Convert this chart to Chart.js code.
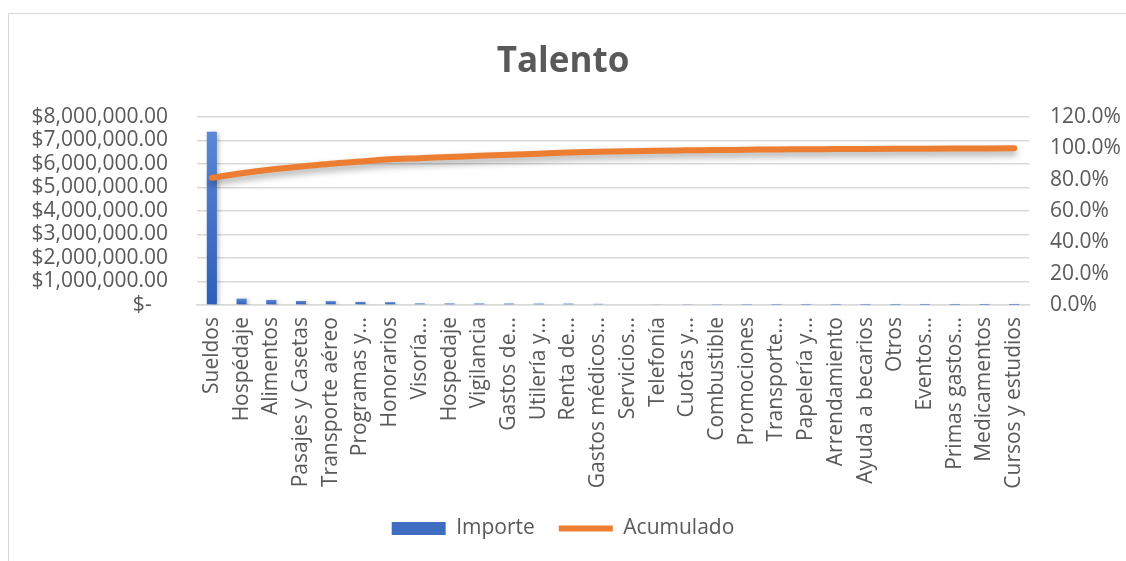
<!DOCTYPE html>
<html>
<head>
<meta charset="utf-8">
<script src="https://cdn.jsdelivr.net/npm/chart.js@4/dist/chart.umd.min.js"></script>
<style>
  html, body { margin: 0; padding: 0; background: #ffffff; }
  #wrap { position: relative; width: 1126px; height: 561px; }
</style>
</head>
<body>
<div id="wrap"><canvas id="c" width="1126" height="561"></canvas></div>
<script>
const chartTitle = 'Talento';
const categories = [
  'Sueldos', 'Hospédaje', 'Alimentos', 'Pasajes y Casetas', 'Transporte aéreo',
  'Programas y...', 'Honorarios', 'Visoría...', 'Hospedaje', 'Vigilancia',
  'Gastos de...', 'Utilería y...', 'Renta de...', 'Gastos médicos...', 'Servicios...',
  'Telefonía', 'Cuotas y...', 'Combustible', 'Promociones', 'Transporte...',
  'Papelería y...', 'Arrendamiento', 'Ayuda a becarios', 'Otros', 'Eventos...',
  'Primas gastos...', 'Medicamentos', 'Cursos y estudios'
];
const importe = [
  7370000, 270000, 215000, 170000, 165000,
  130000, 120000, 70000, 68000, 66000,
  64000, 62000, 60000, 50000, 32000,
  28000, 23000, 20000, 17000, 14000,
  11000, 12000, 10000, 9000, 8000,
  7000, 5000, 4000
];
const acumulado = [
  81.2, 84.1, 86.5, 88.4, 90.2,
  91.6, 93.0, 93.7, 94.5, 95.2,
  95.9, 96.6, 97.3, 97.8, 98.2,
  98.5, 98.7, 98.9, 99.1, 99.3,
  99.4, 99.5, 99.6, 99.7, 99.8,
  99.9, 99.96, 100.0
];
const leftTicks = [0, 1000000, 2000000, 3000000, 4000000, 5000000, 6000000, 7000000, 8000000];
const rightTicks = [0, 20, 40, 60, 80, 100, 120];
const seriesNames = ['Importe', 'Acumulado'];

const FONT = '"Open Sans", "Noto Sans", sans-serif';
const TXT = '#595959';
const GRID = '#d9d9d9';

const frame = {
  id: 'frame',
  beforeDraw(chart) {
    const c = chart.ctx;
    c.save();
    c.fillStyle = '#ffffff';
    c.fillRect(0, 0, chart.width, chart.height);
    c.strokeStyle = GRID;
    c.lineWidth = 1;
    c.beginPath();
    c.moveTo(8.5, chart.height);
    c.lineTo(8.5, 13.5);
    c.lineTo(chart.width, 13.5);
    c.stroke();
    c.restore();
  }
};
const shadow = {
  id: 'shadow',
  beforeDatasetDraw(chart, args) {
    const c = chart.ctx;
    c.save();
    if (args.index === 1) {
      c.shadowColor = 'rgba(0,0,0,0.35)';
      c.shadowBlur = 7;
      c.shadowOffsetY = 4;
    } else {
      c.shadowColor = 'rgba(0,0,0,0.25)';
      c.shadowBlur = 4;
      c.shadowOffsetX = 2;
      c.shadowOffsetY = 1;
    }
  },
  afterDatasetDraw(chart) { chart.ctx.restore(); }
};

function barFill(ctx) {
  const chart = ctx.chart;
  const y = chart.scales && chart.scales.y;
  if (!chart.chartArea || !y || ctx.raw === undefined) return '#4472C4';
  const top = y.getPixelForValue(ctx.raw);
  const bot = y.getPixelForValue(0);
  if (!isFinite(top) || !isFinite(bot) || bot - top < 1) return '#4A78CB';
  const g = chart.ctx.createLinearGradient(0, top, 0, bot);
  g.addColorStop(0, '#5B87D6');
  g.addColorStop(1, '#2E5EB6');
  return g;
}

new Chart(document.getElementById('c'), {
  data: {
    labels: categories,
    datasets: [
      {
        type: 'bar',
        label: seriesNames[0],
        data: importe,
        yAxisID: 'y',
        backgroundColor: barFill,
        borderWidth: 0,
        categoryPercentage: 1,
        barPercentage: 0.34,
        pointStyle: 'rect',
        order: 1
      },
      {
        type: 'line',
        label: seriesNames[1],
        data: acumulado,
        yAxisID: 'y1',
        borderColor: '#ED7D31',
        backgroundColor: '#ED7D31',
        borderWidth: 6,
        borderCapStyle: 'round',
        borderJoinStyle: 'round',
        pointRadius: 0,
        pointHoverRadius: 0,
        pointStyle: 'line',
        tension: 0.4,
        cubicInterpolationMode: 'monotone',
        fill: false,
        order: 0
      }
    ]
  },
  options: {
    responsive: false,
    animation: false,
    devicePixelRatio: 1,
    layout: { padding: { left: 0, right: 0, top: 0, bottom: 12 } },
    plugins: {
      tooltip: { enabled: false },
      title: {
        display: true,
        text: chartTitle,
        color: TXT,
        font: { family: FONT, size: 35, weight: 'bold', lineHeight: 1.2 },
        padding: { top: 41, bottom: 34 }
      },
      legend: {
        position: 'bottom',
        labels: {
          usePointStyle: true,
          pointStyleWidth: 54,
          boxHeight: 13,
          padding: 24,
          color: TXT,
          font: { family: FONT, size: 21 },
          sort: (a, b) => a.datasetIndex - b.datasetIndex,
          generateLabels(chart) {
            const items = Chart.defaults.plugins.legend.labels.generateLabels(chart);
            items.forEach(it => {
              if (it.datasetIndex === 0) {
                it.fillStyle = '#3F6DC2';
                it.strokeStyle = '#3F6DC2';
                it.lineWidth = 0;
              }
            });
            return items;
          }
        }
      }
    },
    scales: {
      x: {
        offset: true,
        grid: { display: false, drawTicks: false },
        border: { display: true, color: GRID, width: 1.5 },
        ticks: {
          autoSkip: false,
          maxRotation: 90,
          minRotation: 90,
          padding: 12,
          color: TXT,
          font: { family: FONT, size: 21 }
        },
        afterFit(s) { s.height = 189; }
      },
      y: {
        position: 'left',
        min: 0,
        max: 8000000,
        afterBuildTicks(s) { s.ticks = leftTicks.map(v => ({ value: v })); },
        grid: { color: GRID, lineWidth: 1.5, drawTicks: false },
        border: { display: false },
        ticks: {
          autoSkip: false,
          padding: 29,
          color: TXT,
          font: { family: FONT, size: 21, lineHeight: 1 },
          callback: v => v === 0 ? '$-   ' : '$' + Number(v).toLocaleString('en-US', { minimumFractionDigits: 2, maximumFractionDigits: 2 })
        },
        afterFit(s) { s.width = 197; }
      },
      y1: {
        position: 'right',
        min: 0,
        max: 120,
        afterBuildTicks(s) { s.ticks = rightTicks.map(v => ({ value: v })); },
        grid: { drawOnChartArea: false, drawTicks: false },
        border: { display: false },
        ticks: {
          autoSkip: false,
          padding: 21,
          color: TXT,
          font: { family: FONT, size: 21, lineHeight: 1 },
          callback: v => Number(v).toFixed(1) + '%'
        },
        afterFit(s) { s.width = 97; }
      }
    }
  },
  plugins: [frame, shadow]
});
</script>
</body>
</html>
